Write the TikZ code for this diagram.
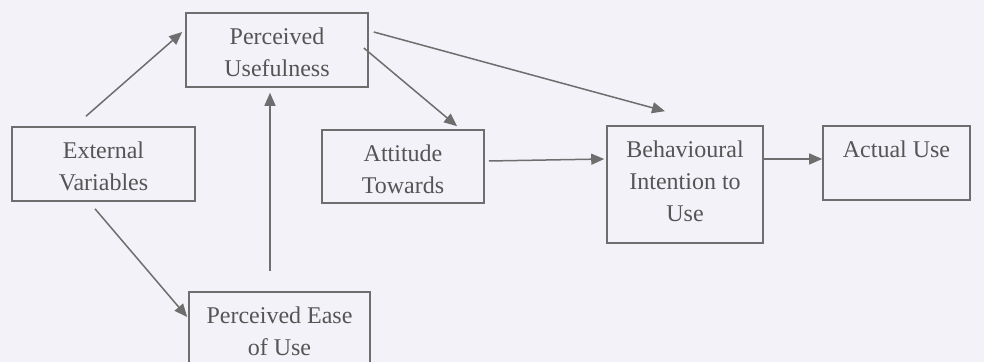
\documentclass[tikz,border=0pt]{standalone}
\usepackage{fontspec}
\setmainfont{Liberation Serif}
\usetikzlibrary{arrows.meta}
\definecolor{paper}{HTML}{F2F2F8}
\definecolor{linegray}{HTML}{6E6E6E}
\definecolor{textgray}{HTML}{555555}
\newcommand{\boxlabel}[3]{\parbox[c][#2][t]{#1}{\centering\vspace*{4.8pt}\strut #3}}
\tikzstyle{box} = [rectangle, draw=linegray, line width=0.8pt, inner sep=0pt, text=textgray, font=\fontsize{12}{16}\selectfont]
\tikzstyle{arrow} = [draw=linegray, line width=0.75pt, -{Triangle[length=6.5pt,width=5.5pt]}]
\begin{document}
\begin{tikzpicture}[x=0.5pt, y=-0.5pt]

\fill[paper] (0,0) rectangle (984,362);
\useasboundingbox (0,0) rectangle (984,362);

\node (PU) [box] at (277,50) {\boxlabel{91pt}{37pt}{Perceived\\Usefulness}};
\node (EV) [box] at (103.5,164) {\boxlabel{91.5pt}{37pt}{External\\Variables}};
\node (ATT) [box] at (403,166.5) {\boxlabel{81pt}{36.5pt}{Attitude\\Towards}};
\node (BI) [box] at (685,184.5) {\boxlabel{78pt}{58.5pt}{Behavioural\\Intention to\\Use}};
\node (AU) [box] at (896.5,163) {\boxlabel{73.5pt}{37pt}{Actual Use}};
\node (PEOU) [box] at (279.5,329) {\boxlabel{90.5pt}{37pt}{Perceived Ease\\of Use}};

\draw [arrow] ([xshift=-8.75pt,yshift=5pt]EV.north) -- ([xshift=-1.5pt,yshift=9pt]PU.west);
\draw [arrow] ([xshift=-4.25pt,yshift=-3.5pt]EV.south) -- ([xshift=-0.5pt,yshift=6pt]PEOU.west);
\draw [arrow] ([xshift=-4.75pt,yshift=10pt]PEOU.north) -- ([xshift=-3.5pt,yshift=-2.5pt]PU.south);
\draw [arrow] ([xshift=-2.5pt,yshift=1pt]PU.east) -- ([xshift=27pt,yshift=1.5pt]ATT.north);
\draw [arrow] ([xshift=2.5pt,yshift=9pt]PU.east) -- ([xshift=-10pt,yshift=7pt]BI.north);
\draw [arrow] ([xshift=2pt,yshift=2.75pt]ATT.east) -- ([xshift=-1pt,yshift=12.75pt]BI.west);
\draw [arrow] ([yshift=12.75pt]BI.east) -- ([yshift=2pt]AU.west);

\end{tikzpicture}
\end{document}
